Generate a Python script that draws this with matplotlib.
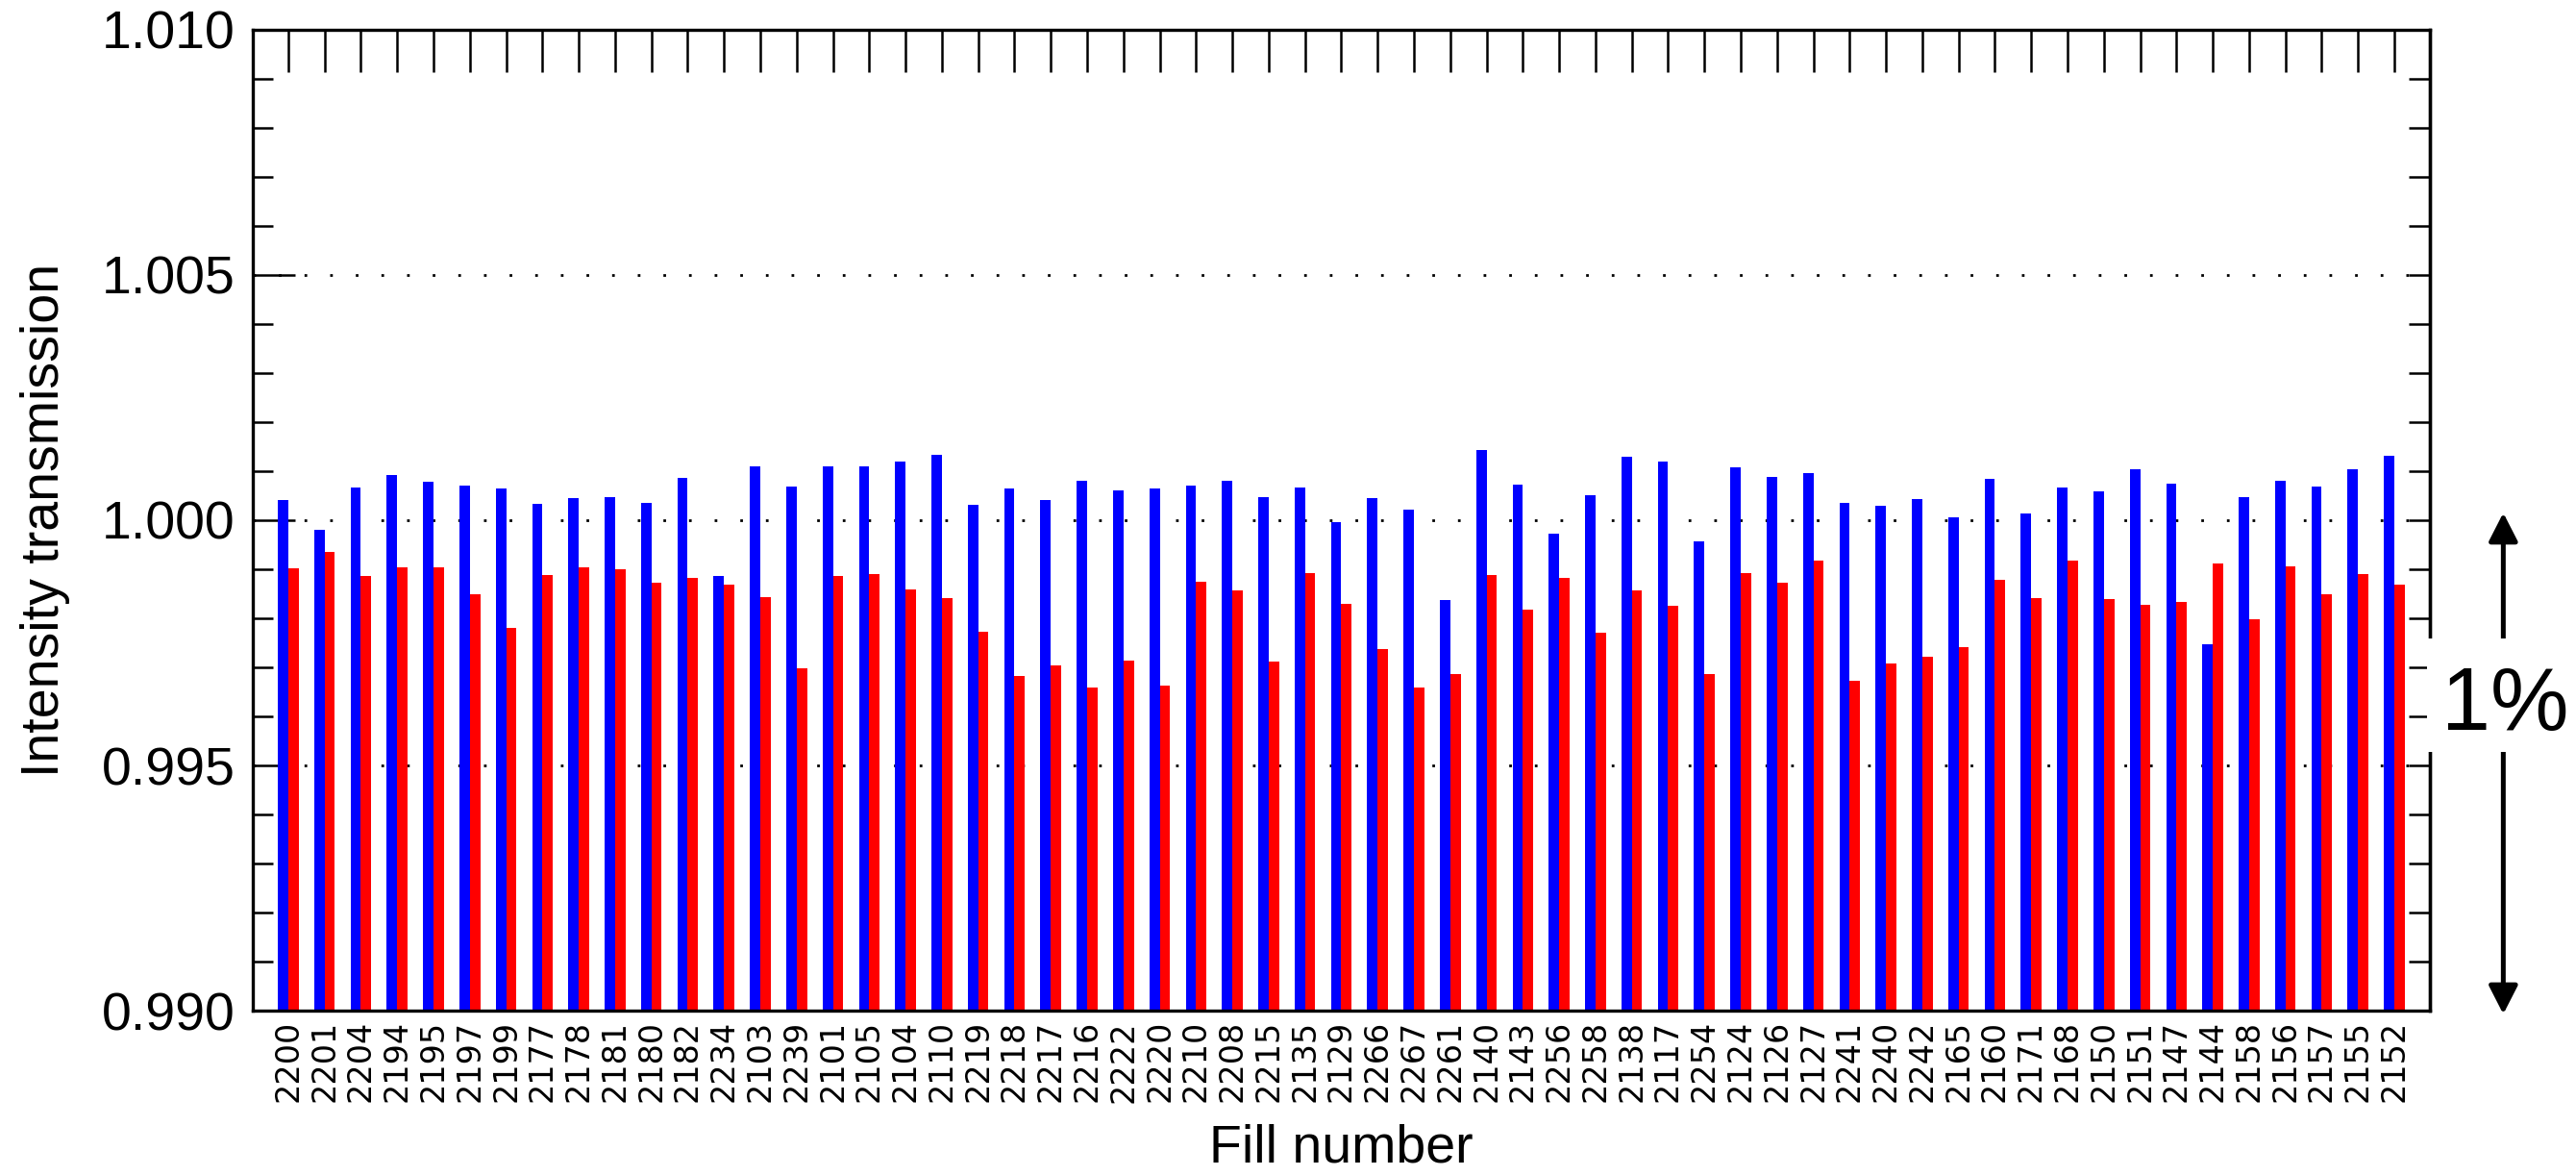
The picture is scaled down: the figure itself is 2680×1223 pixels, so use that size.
import matplotlib
matplotlib.use('Agg')
import matplotlib.pyplot as plt
import numpy as np
from matplotlib.ticker import MultipleLocator, FormatStrFormatter
from matplotlib.patches import Rectangle

plt.rcParams['font.family'] = 'Liberation Sans'

fills = [2200, 2201, 2204, 2194, 2195, 2197, 2199, 2177, 2178, 2181,
         2180, 2182, 2234, 2103, 2239, 2101, 2105, 2104, 2110, 2219,
         2218, 2217, 2216, 2222, 2220, 2210, 2208, 2215, 2135, 2129,
         2266, 2267, 2261, 2140, 2143, 2256, 2258, 2138, 2117, 2254,
         2124, 2126, 2127, 2241, 2240, 2242, 2165, 2160, 2171, 2168,
         2150, 2151, 2147, 2144, 2158, 2156, 2157, 2155, 2152]

# blue series
blue = [1.00042, 0.99980, 1.00067, 1.00093, 1.00079, 1.00070, 1.00065, 1.00033, 1.00046, 1.00048,
        1.00035, 1.00086, 0.99886, 1.00110, 1.00069, 1.00110, 1.00110, 1.00120, 1.00134, 1.00031,
        1.00065, 1.00042, 1.00080, 1.00060, 1.00064, 1.00071, 1.00080, 1.00048, 1.00067, 0.99996,
        1.00046, 1.00021, 0.99838, 1.00143, 1.00073, 0.99973, 1.00051, 1.00130, 1.00119, 0.99957,
        1.00108, 1.00089, 1.00096, 1.00036, 1.00030, 1.00043, 1.00006, 1.00085, 1.00014, 1.00067,
        1.00058, 1.00104, 1.00074, 0.99748, 1.00047, 1.00080, 1.00069, 1.00104, 1.00132]

# red series
red = [0.99901, 0.99935, 0.99886, 0.99904, 0.99903, 0.99849, 0.99780, 0.99889, 0.99903, 0.99900,
       0.99873, 0.99882, 0.99869, 0.99844, 0.99699, 0.99886, 0.99890, 0.99858, 0.99842, 0.99773,
       0.99683, 0.99703, 0.99659, 0.99714, 0.99663, 0.99875, 0.99856, 0.99712, 0.99892, 0.99829,
       0.99737, 0.99659, 0.99687, 0.99889, 0.99818, 0.99882, 0.99770, 0.99856, 0.99826, 0.99686,
       0.99892, 0.99873, 0.99918, 0.99672, 0.99708, 0.99721, 0.99741, 0.99878, 0.99842, 0.99918,
       0.99840, 0.99827, 0.99834, 0.99912, 0.99799, 0.99905, 0.99849, 0.99891, 0.99869]

ymin, ymax = 0.990, 1.010

fig = plt.figure(figsize=(13.4, 6.115), dpi=200)
ax = fig.add_axes([0.0981, 0.1406, 0.9433 - 0.0981, 0.9747 - 0.1406])

x = np.arange(len(fills))
w = 0.285
ax.bar(x - w / 2, np.array(blue) - ymin, bottom=ymin, width=w, color='#0000ff', linewidth=0, zorder=2)
ax.bar(x + w / 2, np.array(red) - ymin, bottom=ymin, width=w, color='#ff0000', linewidth=0, zorder=2)

ax.set_xlim(-0.98, 58.98)
ax.set_ylim(ymin, ymax)

ax.set_xticks(x)
ax.set_xticklabels([str(f) for f in fills], rotation=90, fontsize=12, family='DejaVu Sans')
ax.tick_params(axis='x', which='both', bottom=True, top=True, direction='in',
               length=0, pad=3.6)
# top ticks only (bottom ones hidden under bars in the original)
for t in ax.xaxis.get_major_ticks():
    t.tick2line.set_markersize(15.8)
    t.tick2line.set_markeredgewidth(0.9)

ax.yaxis.set_major_locator(MultipleLocator(0.005))
ax.yaxis.set_minor_locator(MultipleLocator(0.001))
ax.yaxis.set_major_formatter(FormatStrFormatter('%.3f'))
ax.tick_params(axis='y', which='major', left=True, right=False, direction='in',
               length=16, width=0.9, labelsize=20, pad=6.5)
ax.tick_params(axis='y', which='minor', left=True, right=False, direction='in',
               length=7.6, width=0.9)

sec = ax.secondary_yaxis('right')
sec.yaxis.set_major_locator(MultipleLocator(0.005))
sec.yaxis.set_minor_locator(MultipleLocator(0.001))
sec.tick_params(axis='y', which='both', direction='in', length=7.8, width=0.9, labelright=False)
sec.spines['right'].set_linewidth(1.2)

for s in ax.spines.values():
    s.set_linewidth(1.2)

ax.yaxis.grid(True, which='major', color='black', linestyle=(0, (1, 8.6)), linewidth=1.0, zorder=1)
ax.set_axisbelow(True)

ax.set_xlabel('Fill number', fontsize=20, labelpad=8)
ax.set_ylabel('Intensity transmission', fontsize=20, labelpad=12)

# 1% scale arrow, with a white patch behind the label
ax.annotate('', xy=(61.0, 1.00015), xytext=(61.0, 0.98993), xycoords='data',
            arrowprops=dict(arrowstyle='<|-|>,head_length=0.45,head_width=0.23',
                            mutation_scale=20, lw=1.8, color='black',
                            shrinkA=0, shrinkB=0),
            annotation_clip=False)
ax.add_patch(Rectangle((58.9, 0.99527), 4.3, 0.00231, facecolor='white',
                       edgecolor='none', clip_on=False, zorder=9))
ax.text(61.05, 0.99572, '1%', fontsize=33, ha='center', va='baseline',
        clip_on=False, zorder=10)

fig.savefig('out.png', dpi=200)
